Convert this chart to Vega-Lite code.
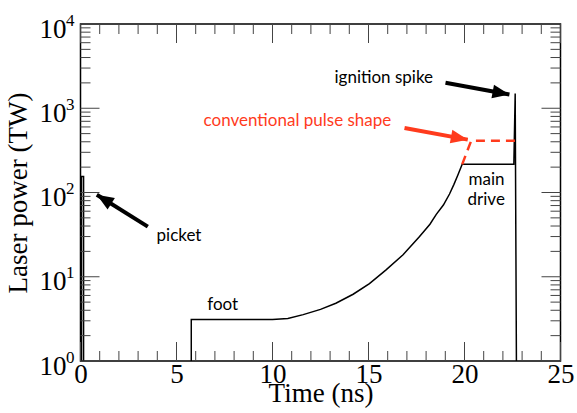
{
  "$schema": "https://vega.github.io/schema/vega-lite/v6.json",
  "width": 480,
  "height": 337,
  "autosize": {"type": "none"},
  "padding": {"left": 80.5, "top": 24, "right": 16.5, "bottom": 52},
  "background": "white",
  "config": {
    "view": {"stroke": "black", "strokeWidth": 1.5},
    "axis": {
      "grid": false,
      "domain": false,
      "labelFont": "Liberation Serif",
      "titleFont": "Liberation Serif",
      "labelColor": "black",
      "titleColor": "black",
      "titleFontWeight": "normal",
      "labelFlush": false,
      "labelOverlap": false,
      "labelBound": false
    }
  },
  "datasets": {
    "main": [
      {"i": 0, "t": 0.05, "p": 0.5},
      {"i": 1, "t": 0.05, "p": 155},
      {"i": 2, "t": 0.16, "p": 155},
      {"i": 3, "t": 0.16, "p": 0.5},
      {"i": 4, "t": 5.77, "p": 0.5},
      {"i": 5, "t": 5.77, "p": 3.1},
      {"i": 6, "t": 10.0, "p": 3.1},
      {"i": 7, "t": 10.8, "p": 3.2},
      {"i": 8, "t": 11.6, "p": 3.55},
      {"i": 9, "t": 12.5, "p": 4.1},
      {"i": 10, "t": 13.3, "p": 4.85},
      {"i": 11, "t": 14.2, "p": 6.2},
      {"i": 12, "t": 15.05, "p": 8.3},
      {"i": 13, "t": 15.9, "p": 12},
      {"i": 14, "t": 16.8, "p": 18.2},
      {"i": 15, "t": 17.66, "p": 30},
      {"i": 16, "t": 18.2, "p": 42},
      {"i": 17, "t": 18.53, "p": 55},
      {"i": 18, "t": 18.9, "p": 71},
      {"i": 19, "t": 19.22, "p": 96},
      {"i": 20, "t": 19.45, "p": 125},
      {"i": 21, "t": 19.65, "p": 160},
      {"i": 22, "t": 19.88, "p": 216},
      {"i": 23, "t": 22.57, "p": 216},
      {"i": 24, "t": 22.64, "p": 1500},
      {"i": 25, "t": 22.71, "p": 0.5}
    ],
    "conv": [
      {"i": 0, "t": 19.88, "p": 216},
      {"i": 1, "t": 20.35, "p": 412},
      {"i": 2, "t": 22.66, "p": 412}
    ],
    "arrows": [
      {"name": "picket", "group": "annotation", "t1": 3.505, "p1": 39.4, "t2": 0.85, "p2": 94},
      {"name": "ignition", "group": "annotation", "t1": 19.01, "p1": 2005, "t2": 22.34, "p2": 1456},
      {"name": "conventional", "group": "conventional", "t1": 16.875, "p1": 584, "t2": 20.17, "p2": 424}
    ],
    "labels": [
      {"label": "picket", "group": "annotation", "t": 3.96, "p": 26.6},
      {"label": "foot", "group": "annotation", "t": 6.6, "p": 4.0},
      {"label": "ignition spike", "group": "annotation", "t": 13.23, "p": 2005},
      {"label": "conventional pulse shape", "group": "conventional", "t": 6.41, "p": 611},
      {"label": "main", "group": "annotation", "t": 20.21, "p": 123.5},
      {"label": "drive", "group": "annotation", "t": 20.16, "p": 71.4}
    ],
    "xticks": [
      {"v": 0, "k": "major"}, {"v": 1, "k": "minor"}, {"v": 2, "k": "minor"}, {"v": 3, "k": "minor"}, {"v": 4, "k": "minor"},
      {"v": 5, "k": "major"}, {"v": 6, "k": "minor"}, {"v": 7, "k": "minor"}, {"v": 8, "k": "minor"}, {"v": 9, "k": "minor"},
      {"v": 10, "k": "major"}, {"v": 11, "k": "minor"}, {"v": 12, "k": "minor"}, {"v": 13, "k": "minor"}, {"v": 14, "k": "minor"},
      {"v": 15, "k": "major"}, {"v": 16, "k": "minor"}, {"v": 17, "k": "minor"}, {"v": 18, "k": "minor"}, {"v": 19, "k": "minor"},
      {"v": 20, "k": "major"}, {"v": 21, "k": "minor"}, {"v": 22, "k": "minor"}, {"v": 23, "k": "minor"}, {"v": 24, "k": "minor"},
      {"v": 25, "k": "major"}
    ],
    "yticks": [
      {"v": 1, "k": "major"}, {"v": 2, "k": "minor"}, {"v": 3, "k": "minor"}, {"v": 4, "k": "minor"}, {"v": 5, "k": "minor"}, {"v": 6, "k": "minor"}, {"v": 7, "k": "minor"}, {"v": 8, "k": "minor"}, {"v": 9, "k": "minor"},
      {"v": 10, "k": "major"}, {"v": 20, "k": "minor"}, {"v": 30, "k": "minor"}, {"v": 40, "k": "minor"}, {"v": 50, "k": "minor"}, {"v": 60, "k": "minor"}, {"v": 70, "k": "minor"}, {"v": 80, "k": "minor"}, {"v": 90, "k": "minor"},
      {"v": 100, "k": "major"}, {"v": 200, "k": "minor"}, {"v": 300, "k": "minor"}, {"v": 400, "k": "minor"}, {"v": 500, "k": "minor"}, {"v": 600, "k": "minor"}, {"v": 700, "k": "minor"}, {"v": 800, "k": "minor"}, {"v": 900, "k": "minor"},
      {"v": 1000, "k": "major"}, {"v": 2000, "k": "minor"}, {"v": 3000, "k": "minor"}, {"v": 4000, "k": "minor"}, {"v": 5000, "k": "minor"}, {"v": 6000, "k": "minor"}, {"v": 7000, "k": "minor"}, {"v": 8000, "k": "minor"}, {"v": 9000, "k": "minor"},
      {"v": 10000, "k": "major"}
    ]
  },
  "resolve": {
    "scale": {"x": "shared", "y": "shared", "color": "shared"},
    "axis": {"x": "independent", "y": "independent"}
  },
  "layer": [
    {
      "data": {"name": "main"},
      "mark": {"type": "line", "color": "black", "strokeWidth": 1.5, "clip": true},
      "encoding": {
        "x": {"field": "t", "type": "quantitative", "scale": {"domain": [0, 25], "nice": false, "zero": false},
          "axis": {"orient": "bottom", "values": [0, 5, 10, 15, 20, 25], "ticks": false, "labelFontSize": 27, "labelPadding": 0, "title": "Time (ns)", "titleFontSize": 27, "titlePadding": -7}},
        "y": {"field": "p", "type": "quantitative", "scale": {"type": "log", "domain": [1, 10000], "nice": false},
          "axis": {"orient": "left", "values": [1, 10, 100, 1000, 10000], "ticks": false, "labelExpr": "'10'", "labelFontSize": 27, "labelPadding": 14.5, "labelOffset": 5, "title": "Laser power (TW)", "titleFontSize": 27, "titlePadding": 7}},
        "order": {"field": "i", "type": "quantitative"}
      }
    },
    {
      "data": {"name": "xticks"},
      "transform": [{"filter": "datum.k === 'major'"}],
      "mark": {"type": "rule", "strokeWidth": 1, "color": "#444444", "y2Offset": -19},
      "encoding": {
        "x": {"field": "v", "type": "quantitative", "scale": {"domain": [0, 25], "nice": false, "zero": false}, "axis": null},
        "y": {"datum": 1, "type": "quantitative", "scale": {"type": "log", "domain": [1, 10000], "nice": false}, "axis": null},
        "y2": {"datum": 1}
      }
    },
    {
      "data": {"name": "xticks"},
      "transform": [{"filter": "datum.k === 'minor'"}],
      "mark": {"type": "rule", "strokeWidth": 1, "color": "#444444", "y2Offset": -10},
      "encoding": {
        "x": {"field": "v", "type": "quantitative", "scale": {"domain": [0, 25], "nice": false, "zero": false}, "axis": null},
        "y": {"datum": 1, "type": "quantitative", "scale": {"type": "log", "domain": [1, 10000], "nice": false}, "axis": null},
        "y2": {"datum": 1}
      }
    },
    {
      "data": {"name": "xticks"},
      "transform": [{"filter": "datum.k === 'major'"}],
      "mark": {"type": "rule", "strokeWidth": 1, "color": "#444444", "y2Offset": 19},
      "encoding": {
        "x": {"field": "v", "type": "quantitative", "scale": {"domain": [0, 25], "nice": false, "zero": false}, "axis": null},
        "y": {"datum": 10000, "type": "quantitative", "scale": {"type": "log", "domain": [1, 10000], "nice": false}, "axis": null},
        "y2": {"datum": 10000}
      }
    },
    {
      "data": {"name": "xticks"},
      "transform": [{"filter": "datum.k === 'minor'"}],
      "mark": {"type": "rule", "strokeWidth": 1, "color": "#444444", "y2Offset": 10},
      "encoding": {
        "x": {"field": "v", "type": "quantitative", "scale": {"domain": [0, 25], "nice": false, "zero": false}, "axis": null},
        "y": {"datum": 10000, "type": "quantitative", "scale": {"type": "log", "domain": [1, 10000], "nice": false}, "axis": null},
        "y2": {"datum": 10000}
      }
    },
    {
      "data": {"name": "yticks"},
      "transform": [{"filter": "datum.k === 'major'"}],
      "mark": {"type": "rule", "strokeWidth": 1, "color": "#444444", "x2Offset": 19},
      "encoding": {
        "y": {"field": "v", "type": "quantitative", "scale": {"type": "log", "domain": [1, 10000], "nice": false}, "axis": null},
        "x": {"datum": 0, "type": "quantitative", "scale": {"domain": [0, 25], "nice": false, "zero": false}, "axis": null},
        "x2": {"datum": 0}
      }
    },
    {
      "data": {"name": "yticks"},
      "transform": [{"filter": "datum.k === 'minor'"}],
      "mark": {"type": "rule", "strokeWidth": 1, "color": "#444444", "x2Offset": 10},
      "encoding": {
        "y": {"field": "v", "type": "quantitative", "scale": {"type": "log", "domain": [1, 10000], "nice": false}, "axis": null},
        "x": {"datum": 0, "type": "quantitative", "scale": {"domain": [0, 25], "nice": false, "zero": false}, "axis": null},
        "x2": {"datum": 0}
      }
    },
    {
      "data": {"name": "yticks"},
      "transform": [{"filter": "datum.k === 'major'"}],
      "mark": {"type": "rule", "strokeWidth": 1, "color": "#444444", "x2Offset": -19},
      "encoding": {
        "y": {"field": "v", "type": "quantitative", "scale": {"type": "log", "domain": [1, 10000], "nice": false}, "axis": null},
        "x": {"datum": 25, "type": "quantitative", "scale": {"domain": [0, 25], "nice": false, "zero": false}, "axis": null},
        "x2": {"datum": 25}
      }
    },
    {
      "data": {"name": "yticks"},
      "transform": [{"filter": "datum.k === 'minor'"}],
      "mark": {"type": "rule", "strokeWidth": 1, "color": "#444444", "x2Offset": -10},
      "encoding": {
        "y": {"field": "v", "type": "quantitative", "scale": {"type": "log", "domain": [1, 10000], "nice": false}, "axis": null},
        "x": {"datum": 25, "type": "quantitative", "scale": {"domain": [0, 25], "nice": false, "zero": false}, "axis": null},
        "x2": {"datum": 25}
      }
    },
    {
      "data": {"name": "conv"},
      "mark": {"type": "line", "color": "#ff3b1d", "strokeWidth": 2.5, "strokeDash": [9, 6], "clip": true},
      "encoding": {
        "x": {"field": "t", "type": "quantitative", "scale": {"domain": [0, 25], "nice": false, "zero": false}, "axis": null},
        "y": {"field": "p", "type": "quantitative", "scale": {"type": "log", "domain": [1, 10000], "nice": false},
          "axis": {"orient": "left", "values": [1, 10, 100, 1000, 10000], "ticks": false, "labelExpr": "'' + round(log(datum.value) / LN10)", "labelFontSize": 17, "labelPadding": 6.5, "labelOffset": -4, "title": null}},
        "order": {"field": "i", "type": "quantitative"}
      }
    },
    {
      "data": {"name": "arrows"},
      "mark": {"type": "rule", "strokeWidth": 4, "strokeCap": "butt"},
      "encoding": {
        "x": {"field": "t1", "type": "quantitative", "scale": {"domain": [0, 25], "nice": false, "zero": false}, "axis": null},
        "y": {"field": "p1", "type": "quantitative", "scale": {"type": "log", "domain": [1, 10000], "nice": false}, "axis": null},
        "x2": {"field": "t2"},
        "y2": {"field": "p2"},
        "color": {"field": "group", "type": "nominal", "scale": {"domain": ["annotation", "conventional"], "range": ["black", "#ff3b1d"]}, "legend": null}
      }
    },
    {
      "data": {"name": "arrows"},
      "transform": [{"filter": "datum.name === 'picket'"}],
      "mark": {"type": "point", "shape": "M0,0L-0.65,1.6L0.65,1.6Z", "filled": true, "opacity": 1, "size": 450, "angle": 301.9},
      "encoding": {
        "x": {"field": "t2", "type": "quantitative", "scale": {"domain": [0, 25], "nice": false, "zero": false}, "axis": null},
        "y": {"field": "p2", "type": "quantitative", "scale": {"type": "log", "domain": [1, 10000], "nice": false}, "axis": null},
        "color": {"field": "group", "type": "nominal", "scale": {"domain": ["annotation", "conventional"], "range": ["black", "#ff3b1d"]}, "legend": null}
      }
    },
    {
      "data": {"name": "arrows"},
      "transform": [{"filter": "datum.name === 'ignition'"}],
      "mark": {"type": "point", "shape": "M0,0L-0.65,1.6L0.65,1.6Z", "filled": true, "opacity": 1, "size": 450, "angle": 100.4},
      "encoding": {
        "x": {"field": "t2", "type": "quantitative", "scale": {"domain": [0, 25], "nice": false, "zero": false}, "axis": null},
        "y": {"field": "p2", "type": "quantitative", "scale": {"type": "log", "domain": [1, 10000], "nice": false}, "axis": null},
        "color": {"field": "group", "type": "nominal", "scale": {"domain": ["annotation", "conventional"], "range": ["black", "#ff3b1d"]}, "legend": null}
      }
    },
    {
      "data": {"name": "arrows"},
      "transform": [{"filter": "datum.name === 'conventional'"}],
      "mark": {"type": "point", "shape": "M0,0L-0.65,1.6L0.65,1.6Z", "filled": true, "opacity": 1, "size": 450, "angle": 100.5},
      "encoding": {
        "x": {"field": "t2", "type": "quantitative", "scale": {"domain": [0, 25], "nice": false, "zero": false}, "axis": null},
        "y": {"field": "p2", "type": "quantitative", "scale": {"type": "log", "domain": [1, 10000], "nice": false}, "axis": null},
        "color": {"field": "group", "type": "nominal", "scale": {"domain": ["annotation", "conventional"], "range": ["black", "#ff3b1d"]}, "legend": null}
      }
    },
    {
      "data": {"name": "labels"},
      "mark": {"type": "text", "font": "Lato", "fontSize": 17, "align": "left", "baseline": "alphabetic"},
      "encoding": {
        "x": {"field": "t", "type": "quantitative", "scale": {"domain": [0, 25], "nice": false, "zero": false}, "axis": null},
        "y": {"field": "p", "type": "quantitative", "scale": {"type": "log", "domain": [1, 10000], "nice": false}, "axis": null},
        "text": {"field": "label"},
        "color": {"field": "group", "type": "nominal", "scale": {"domain": ["annotation", "conventional"], "range": ["black", "#ff3b1d"]}, "legend": null}
      }
    }
  ]
}
